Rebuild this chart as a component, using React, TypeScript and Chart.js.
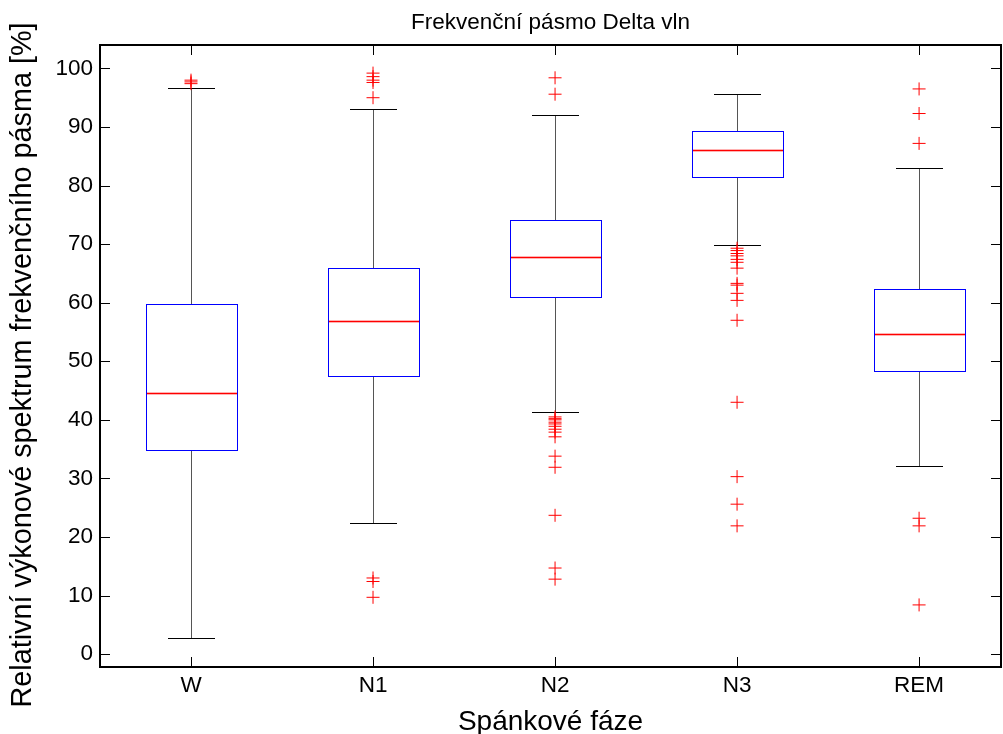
import React, { useEffect, useRef } from 'react';
import { Chart, registerables } from 'chart.js';

Chart.register(...registerables);

const FONT = '"Liberation Sans", Arial, Helvetica, sans-serif';

const titleText = 'Frekvenční pásmo Delta vln';
const xLabel = 'Spánkové fáze';
const yLabel = 'Relativní výkonové spektrum frekvenčního pásma [%]';

const categories = ['W', 'N1', 'N2', 'N3', 'REM'];
const whiskerLow = [2.7, 22.4, 41.4, 69.8, 32.1];
const q1 = [34.8, 47.5, 61.0, 81.4, 48.3];
const median = [44.6, 56.9, 67.8, 86.1, 54.6];
const q3 = [59.8, 65.9, 74.1, 89.3, 62.3];
const whiskerHigh = [96.7, 93.1, 92.0, 95.7, 83.0];

const outliersW = [98.0, 97.7, 97.4];
const outliersN1 = [99.2, 98.6, 98.0, 97.6, 95.0, 13.0, 12.4, 9.7];
const outliersN2 = [98.4, 95.6, 40.5, 40.2, 40.0, 39.6, 39.3, 38.9, 38.4, 37.9, 37.1, 33.8, 31.9, 23.7, 14.7, 12.8];
const outliersN3 = [69.3, 68.9, 68.4, 68.0, 67.4, 66.9, 65.9, 63.3, 63.0, 61.6, 60.4, 57.0, 43.0, 30.3, 25.6, 21.9];
const outliersREM = [96.5, 92.3, 87.2, 23.2, 21.9, 8.4];
const outlierGroups = [outliersW, outliersN1, outliersN2, outliersN3, outliersREM];

const yTicks = [0, 10, 20, 30, 40, 50, 60, 70, 80, 90, 100];
const xMin = 0.5;
const xMax = 5.45;
const yMin = -2.2;
const yMax = 104;

export default function App() {
  const ref = useRef<HTMLCanvasElement>(null);

  useEffect(() => {
    const canvas = ref.current;
    if (!canvas) return;

    const outlierPoints: { x: number; y: number }[] = [];
    outlierGroups.forEach((g, i) => g.forEach((v) => outlierPoints.push({ x: i + 1, y: v })));

    const boxPlugin = {
      id: 'boxes',
      beforeDatasetsDraw(chart: any) {
        const { ctx } = chart;
        const x = chart.scales.x;
        const y = chart.scales.y;
        const r = (v: number) => Math.round(v);
        const hLine = (x0: number, x1: number, yy: number, color: string) => {
          ctx.fillStyle = color;
          ctx.fillRect(x0, yy, x1 - x0 + 1, 1);
        };
        const vLine = (xx: number, y0: number, y1: number, color: string) => {
          ctx.fillStyle = color;
          const a = Math.min(y0, y1);
          const b = Math.max(y0, y1);
          ctx.fillRect(xx, a, 1, b - a + 1);
        };
        ctx.save();
        categories.forEach((_, i) => {
          const c = i + 1;
          const cx = r(x.getPixelForValue(c));
          const bl = r(x.getPixelForValue(c - 0.25));
          const br = r(x.getPixelForValue(c + 0.25));
          const cl = r(x.getPixelForValue(c - 0.125));
          const cr = r(x.getPixelForValue(c + 0.125));
          const yLo = r(y.getPixelForValue(whiskerLow[i]));
          const yQ1 = r(y.getPixelForValue(q1[i]));
          const yMed = r(y.getPixelForValue(median[i]));
          const yQ3 = r(y.getPixelForValue(q3[i]));
          const yHi = r(y.getPixelForValue(whiskerHigh[i]));
          // whiskers
          vLine(cx, yHi, yQ3, '#555555');
          vLine(cx, yQ1, yLo, '#555555');
          // caps
          hLine(cl, cr, yHi, '#000000');
          hLine(cl, cr, yLo, '#000000');
          // box
          hLine(bl, br, yQ3, '#0000ff');
          hLine(bl, br, yQ1, '#0000ff');
          vLine(bl, yQ3, yQ1, '#0000ff');
          vLine(br, yQ3, yQ1, '#0000ff');
          // median (with a faint antialias halo)
          hLine(bl + 1, br - 1, yMed - 1, 'rgba(255,0,0,0.3)');
          hLine(bl + 1, br - 1, yMed + 1, 'rgba(255,0,0,0.3)');
          hLine(bl + 1, br - 1, yMed, '#ff0000');
        });
        ctx.restore();
      },
    };

    const framePlugin = {
      id: 'frame',
      afterDraw(chart: any) {
        const { ctx, chartArea } = chart;
        const { left, right, top, bottom } = chartArea;
        const x = chart.scales.x;
        const y = chart.scales.y;
        ctx.save();
        // inner ticks
        ctx.strokeStyle = '#000';
        ctx.lineWidth = 1;
        ctx.beginPath();
        yTicks.forEach((v) => {
          const py = Math.round(y.getPixelForValue(v)) + 0.5;
          ctx.moveTo(left, py);
          ctx.lineTo(left + 10, py);
          ctx.moveTo(right, py);
          ctx.lineTo(right - 10, py);
        });
        categories.forEach((_, i) => {
          const px = Math.round(x.getPixelForValue(i + 1)) + 0.5;
          ctx.moveTo(px, bottom);
          ctx.lineTo(px, bottom - 10);
          ctx.moveTo(px, top);
          ctx.lineTo(px, top + 10);
        });
        ctx.stroke();
        // frame
        ctx.lineWidth = 2;
        ctx.strokeRect(left, top, right - left, bottom - top);
        // y axis label
        ctx.fillStyle = '#000';
        ctx.font = `28.8px ${FONT}`;
        ctx.textAlign = 'center';
        ctx.textBaseline = 'middle';
        ctx.translate(23, 365);
        ctx.rotate(-Math.PI / 2);
        ctx.fillText(yLabel, 0, 0);
        ctx.restore();
      },
    };

    const chart = new Chart(canvas, {
      type: 'scatter',
      data: {
        datasets: [
          {
            data: outlierPoints,
            pointStyle: 'cross',
            pointRadius: 6.5,
            pointHoverRadius: 6.5,
            pointBorderWidth: 1,
            borderColor: '#ff0000',
            backgroundColor: '#ff0000',
            showLine: false,
          },
        ],
      },
      options: {
        responsive: false,
        animation: false,
        events: [],
        layout: { autoPadding: false, padding: { left: 0, right: 2, top: 0, bottom: 0 } },
        plugins: {
          legend: { display: false },
          tooltip: { enabled: false },
          title: {
            display: true,
            text: titleText,
            fullSize: false,
            color: '#000',
            font: { family: FONT, size: 22.5, weight: 'normal', lineHeight: 1.2 },
            padding: { top: 9, bottom: 9 },
          },
        },
        scales: {
          x: {
            type: 'linear',
            min: xMin,
            max: xMax,
            grid: { display: false, drawTicks: false },
            border: { display: false },
            afterBuildTicks: (s: any) => {
              s.ticks = categories.map((_, i) => ({ value: i + 1 }));
            },
            ticks: {
              callback: (v: any) => categories[Math.round(Number(v)) - 1] ?? '',
              color: '#000',
              font: { family: FONT, size: 22.5 },
              padding: 5,
              maxRotation: 0,
              autoSkip: false,
            },
            title: {
              display: true,
              text: xLabel,
              color: '#000',
              font: { family: FONT, size: 28, lineHeight: 0.8 },
              padding: { top: 0, bottom: 1 },
            },
            afterFit: (s: any) => {
              s.height = 67;
              s.paddingLeft = 0;
              s.paddingRight = 0;
            },
          },
          y: {
            type: 'linear',
            min: yMin,
            max: yMax,
            grid: { display: false, drawTicks: false },
            border: { display: false },
            afterBuildTicks: (s: any) => {
              s.ticks = yTicks.map((v) => ({ value: v }));
            },
            ticks: {
              color: '#000',
              font: { family: FONT, size: 22.5 },
              padding: 7,
              autoSkip: false,
            },
            afterFit: (s: any) => {
              s.width = 100;
              s.paddingTop = 0;
              s.paddingBottom = 0;
            },
          },
        },
      },
      plugins: [boxPlugin, framePlugin],
    } as any);

    return () => chart.destroy();
  }, []);

  return (
    <div style={{ position: 'fixed', left: 0, top: 0, width: 1003, height: 734, background: '#fff' }}>
      <canvas ref={ref} width={1003} height={734} style={{ display: 'block' }} />
    </div>
  );
}
